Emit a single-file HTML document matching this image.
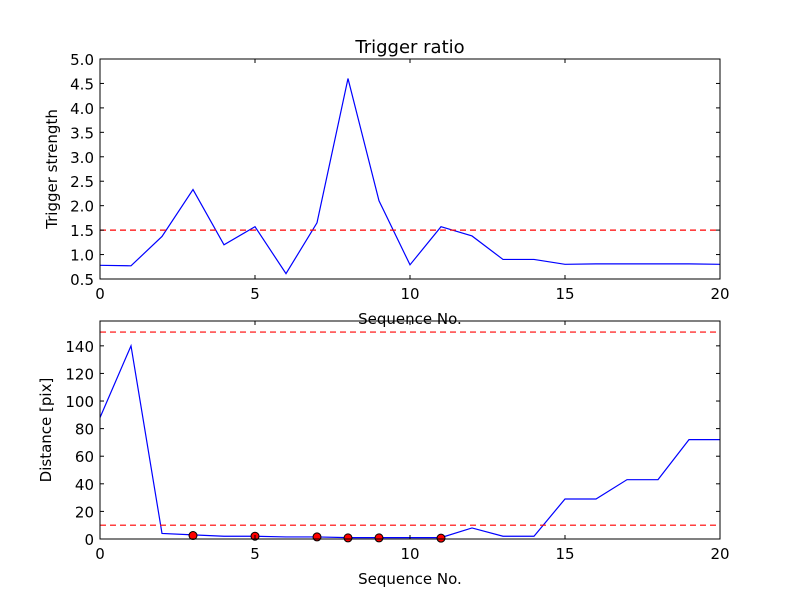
<!DOCTYPE html>
<html><head><meta charset="utf-8"><style>
body{margin:0;background:#fff;}
svg text{font-family:"DejaVu Sans","Liberation Sans",sans-serif;font-size:15px;fill:#000;}
</style></head><body>
<svg id="c" width="800" height="600"></svg>
<script>
const seq=[0,1,2,3,4,5,6,7,8,9,10,11,12,13,14,15,16,17,18,19,20];
const ratio=[0.78,0.77,1.37,2.33,1.2,1.57,0.61,1.65,4.6,2.1,0.79,1.57,1.38,0.9,0.9,0.8,0.81,0.81,0.81,0.81,0.8];
const ratioThreshold=1.5;
const dist=[88,140,4,3,2,2,1.5,1.5,1,1,1,1,8,2,2,29,29,43,43,72,72];
const distThresholds=[150,10];
const markX=[3,5,7,8,9,11];
const markY=[2.5,2,1.5,0.8,0.8,0.6];
const xTicks=[0,5,10,15,20];
const topTicks=[0.5,1.0,1.5,2.0,2.5,3.0,3.5,4.0,4.5,5.0];
const botTicks=[0,20,40,60,80,100,120,140];

const svg=document.getElementById('c');
const NS='http://www.w3.org/2000/svg';
function mk(t,a,p){const e=document.createElementNS(NS,t);for(const k in a)e.setAttribute(k,a[k]);(p||svg).appendChild(e);return e;}
const x=v=>100+v*31;
const yT=v=>279-(v-0.5)*(220/4.5);
const yB=v=>539-v*(218/158);

function axes(top,bot,ticks,yf,fmt,name){
  const g=mk('g',{});
  
  
  xTicks.forEach(t=>{
    mk('line',{x1:x(t),x2:x(t),y1:bot,y2:bot-4,stroke:'#000'},g);
    mk('line',{x1:x(t),x2:x(t),y1:top,y2:top+4,stroke:'#000'},g);
    const tx=mk('text',{x:x(t),y:bot+20,'text-anchor':'middle'},g);tx.textContent=t;
    
    
  });
  ticks.forEach(t=>{
    mk('line',{x1:100,x2:104,y1:yf(t),y2:yf(t),stroke:'#000'},g);
    mk('line',{x1:720,x2:716,y1:yf(t),y2:yf(t),stroke:'#000'},g);
    const tx=mk('text',{x:94,y:yf(t)+6,'text-anchor':'end'},g);tx.textContent=fmt(t);
    
    
  });
  mk('rect',{x:100,y:top,width:620,height:bot-top,fill:'none',stroke:'#000'},g);
}

const l1=mk('polyline',{points:seq.map((s,i)=>x(s)+','+yT(ratio[i])).join(' '),fill:'none',stroke:'#0000ff','stroke-width':1.2});


const th=mk('line',{x1:100,x2:720,y1:yT(ratioThreshold),y2:yT(ratioThreshold),stroke:'#ff0000','stroke-dasharray':'6,4','stroke-width':1.2});


axes(59,279,topTicks,yT,v=>v.toFixed(1),'top-axes');

const l2=mk('polyline',{points:seq.map((s,i)=>x(s)+','+yB(dist[i])).join(' '),fill:'none',stroke:'#0000ff','stroke-width':1.2});


distThresholds.forEach(d=>{
  const l=mk('line',{x1:100,x2:720,y1:yB(d),y2:yB(d),stroke:'#ff0000','stroke-dasharray':'6,4','stroke-width':1.2});
  
  
});
markX.forEach((m,i)=>{
  const c=mk('circle',{cx:x(m),cy:yB(markY[i]),r:4,fill:'#ff0000',stroke:'#000'});
  
  
});
axes(321,539,botTicks,yB,v=>v,'bottom-axes');

function label(txt,xx,yy,name,rot,size){
  const t=mk('text',{x:xx,y:yy,'text-anchor':'middle'});
  if(rot)t.setAttribute('transform','rotate(-90 '+xx+' '+yy+')');
  if(size)t.style.fontSize=size+'px';
  t.textContent=txt;
  
  
}
label('Trigger ratio',410,53,'top-title',false,18);
label('Sequence No.',410,324,'top-x-axis-title');
label('Trigger strength',57,169,'top-y-axis-title',true);
label('Sequence No.',410,584,'bottom-x-axis-title');
label('Distance [pix]',51,430,'bottom-y-axis-title',true);
</script>
</body></html>
